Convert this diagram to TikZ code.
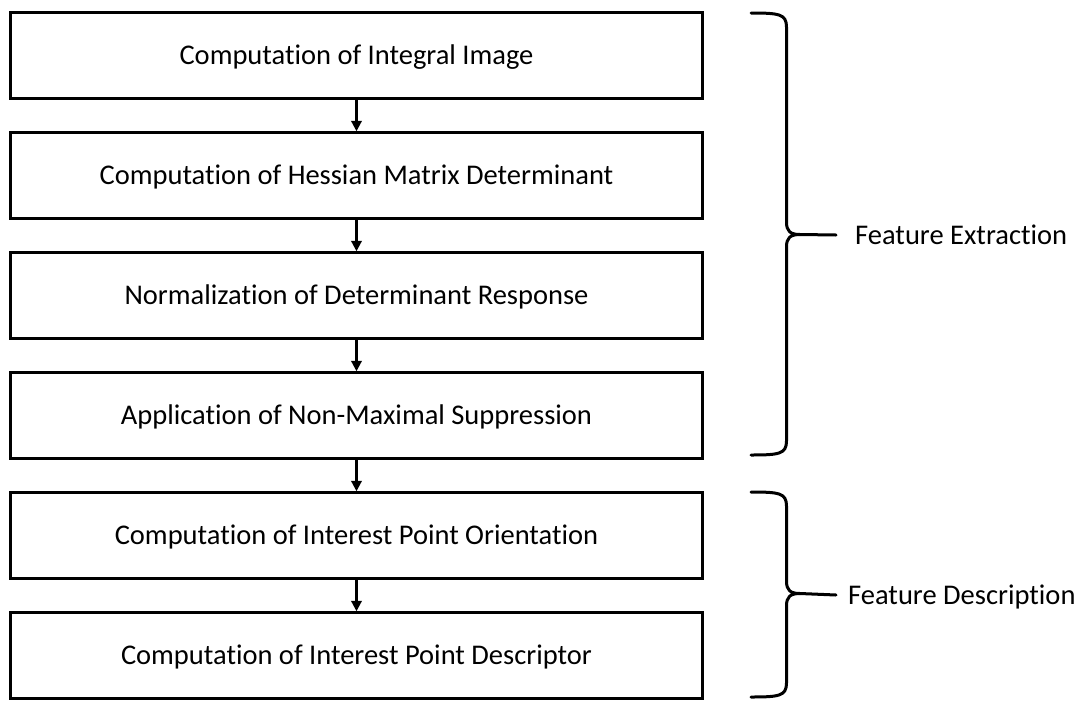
\documentclass[tikz,border=0pt]{standalone}
\usepackage{fontspec}
\setmainfont{Carlito}[Ligatures={NoCommon,NoContextual,NoRare}]
\usetikzlibrary{arrows.meta}
\newcommand{\tion}{t\kern0pt ion}
\tikzset{
  stagebox/.style={draw=black, line width=3pt, minimum width=692pt, minimum height=85.5pt,
    inner sep=0pt, text height=18pt, text depth=0pt, font=\fontsize{28.5}{34}\selectfont},
  flowarrow/.style={line width=2.2pt, -{Triangle[width=10.5pt,length=10.5pt]}},
  bracepath/.style={line width=3pt, line cap=round, line join=round},
  bracelabel/.style={anchor=west, inner sep=0pt, text height=18pt, text depth=0pt, font=\fontsize{28.5}{34}\selectfont}
}
\begin{document}
\begin{tikzpicture}[x=1pt,y=-1pt]
\useasboundingbox (0,0) rectangle (1085,705);
\node[stagebox] (b1) at (356.5,55.5) {Computa\tion{} of Integral Image};
\node[stagebox] (b2) at (356.5,175.5) {Computa\tion{} of Hessian Matrix Determinant};
\node[stagebox] (b3) at (356.5,295.5) {Normaliza\tion{} of Determinant Response};
\node[stagebox] (b4) at (356.5,415.5) {Applica\tion{} of Non-Maximal Suppression};
\node[stagebox] (b5) at (356.5,535.5) {Computa\tion{} of Interest Point Orienta\tion};
\node[stagebox] (b6) at (356.5,655.5) {Computa\tion{} of Interest Point Descriptor};
\draw[flowarrow] (b1.south) -- (b2.north);
\draw[flowarrow] (b2.south) -- (b3.north);
\draw[flowarrow] (b3.south) -- (b4.north);
\draw[flowarrow] (b4.south) -- (b5.north);
\draw[flowarrow] (b5.south) -- (b6.north);
% brace 1
\coordinate (tA) at (800,234.5);
\draw[bracepath] (751,13) .. controls (779,13) and (786.5,14) .. (786.5,27)
  -- (786.5,222) .. controls (786.5,231) and (790,234.5) .. (tA)
  .. controls (790,234.5) and (786.5,238) .. (786.5,247)
  -- (786.5,441) .. controls (786.5,454) and (779,455) .. (751,455);
\node[bracelabel] (lA) at (855,235) {Feature Extrac\tion};
\draw[bracepath] (tA) -- ([xshift=-19pt]lA.west);
% brace 2
\coordinate (tB) at (800,593.5);
\draw[bracepath] (751,492) .. controls (779,492) and (786.5,493) .. (786.5,506)
  -- (786.5,581) .. controls (786.5,590) and (790,593.5) .. (tB)
  .. controls (790,593.5) and (786.5,597) .. (786.5,606)
  -- (786.5,683) .. controls (786.5,696) and (779,697) .. (751,697);
\node[bracelabel] (lB) at (848,595) {Feature Descrip\tion};
\draw[bracepath] (tB) -- ([xshift=-12pt]lB.west);
\end{tikzpicture}
\end{document}
